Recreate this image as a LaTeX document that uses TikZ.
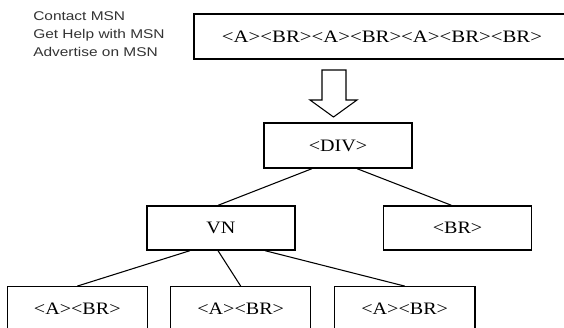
\documentclass[tikz,border=0pt]{standalone}
\usepackage{fontspec}
\usepackage{graphicx}
\setmainfont{Liberation Serif}
\newfontfamily\sansf{Liberation Sans}
\usetikzlibrary{calc}
\newcommand\tagtxt[2][1.15]{\raisebox{-2.6pt}{\scalebox{#1}[1]{#2}}}
\newcommand\menutxt[1]{\scalebox{1.22}[1]{#1}}
\begin{document}
\begin{tikzpicture}[x=0.75pt,y=-0.75pt,
  box/.style={draw, line width=1pt, inner sep=0pt, font=\fontsize{13.1}{15}\selectfont},
  link/.style={line width=0.8pt},
  menu/.style={anchor=base west, inner sep=0pt, text=black!80, font=\sansf\fontsize{9.5}{11}\selectfont},
  hollow/.style={draw, line width=0.8pt, line join=miter}]
\useasboundingbox (0,0) rectangle (564,328);
\clip (0,0) rectangle (564,328);
% left menu text
\node[menu] (m1) at (33,20.7) {\menutxt{Contact MSN}};
\node[menu] (m2) at (33,38.5) {\menutxt{Get Help with MSN}};
\node[menu] (m3) at (33,56.5) {\menutxt{Advertise on MSN}};
% boxes
\node[box, minimum width=282pt, minimum height=33.75pt] (top) at (382,36.5) {\tagtxt[1.19]{<A><BR><A><BR><A><BR><BR>}};
\node[box, minimum width=111pt, minimum height=33.75pt] (div) at (338,145.5) {\tagtxt{<DIV>}};
\node[box, minimum width=111pt, minimum height=33pt] (vn) at (221,228) {\tagtxt{VN}};
\node[box, minimum width=111pt, minimum height=33pt] (br) at (457.5,228) {\tagtxt{<BR>}};
\node[box, minimum width=105pt, minimum height=33.2pt] (c1) at (77.3,308.9) {\tagtxt{<A><BR>}};
\node[box, minimum width=105pt, minimum height=33.2pt] (c2) at (240.7,308.9) {\tagtxt{<A><BR>}};
\node[box, minimum width=105.5pt, minimum height=33.2pt] (c3) at (404.7,308.9) {\tagtxt{<A><BR>}};
% hollow arrow
\draw[hollow] (322,70) -- (346,70) -- (346,100) -- (357,100) -- (333.5,117) -- (310,100) -- (322,100) -- cycle;
% connectors
\draw[link] ($(div.south)+(-26,0)$) -- ($(vn.north)+(-3,0)$);
\draw[link] ($(div.south)+(19,0)$) -- ($(br.north)+(-6,0)$);
\draw[link] ($(vn.south)+(-31,0)$) -- (c1.north);
\draw[link] ($(vn.south)+(-3,0)$) -- (c2.north);
\draw[link] ($(vn.south)+(44,0)$) -- (c3.north);
\end{tikzpicture}
\end{document}
